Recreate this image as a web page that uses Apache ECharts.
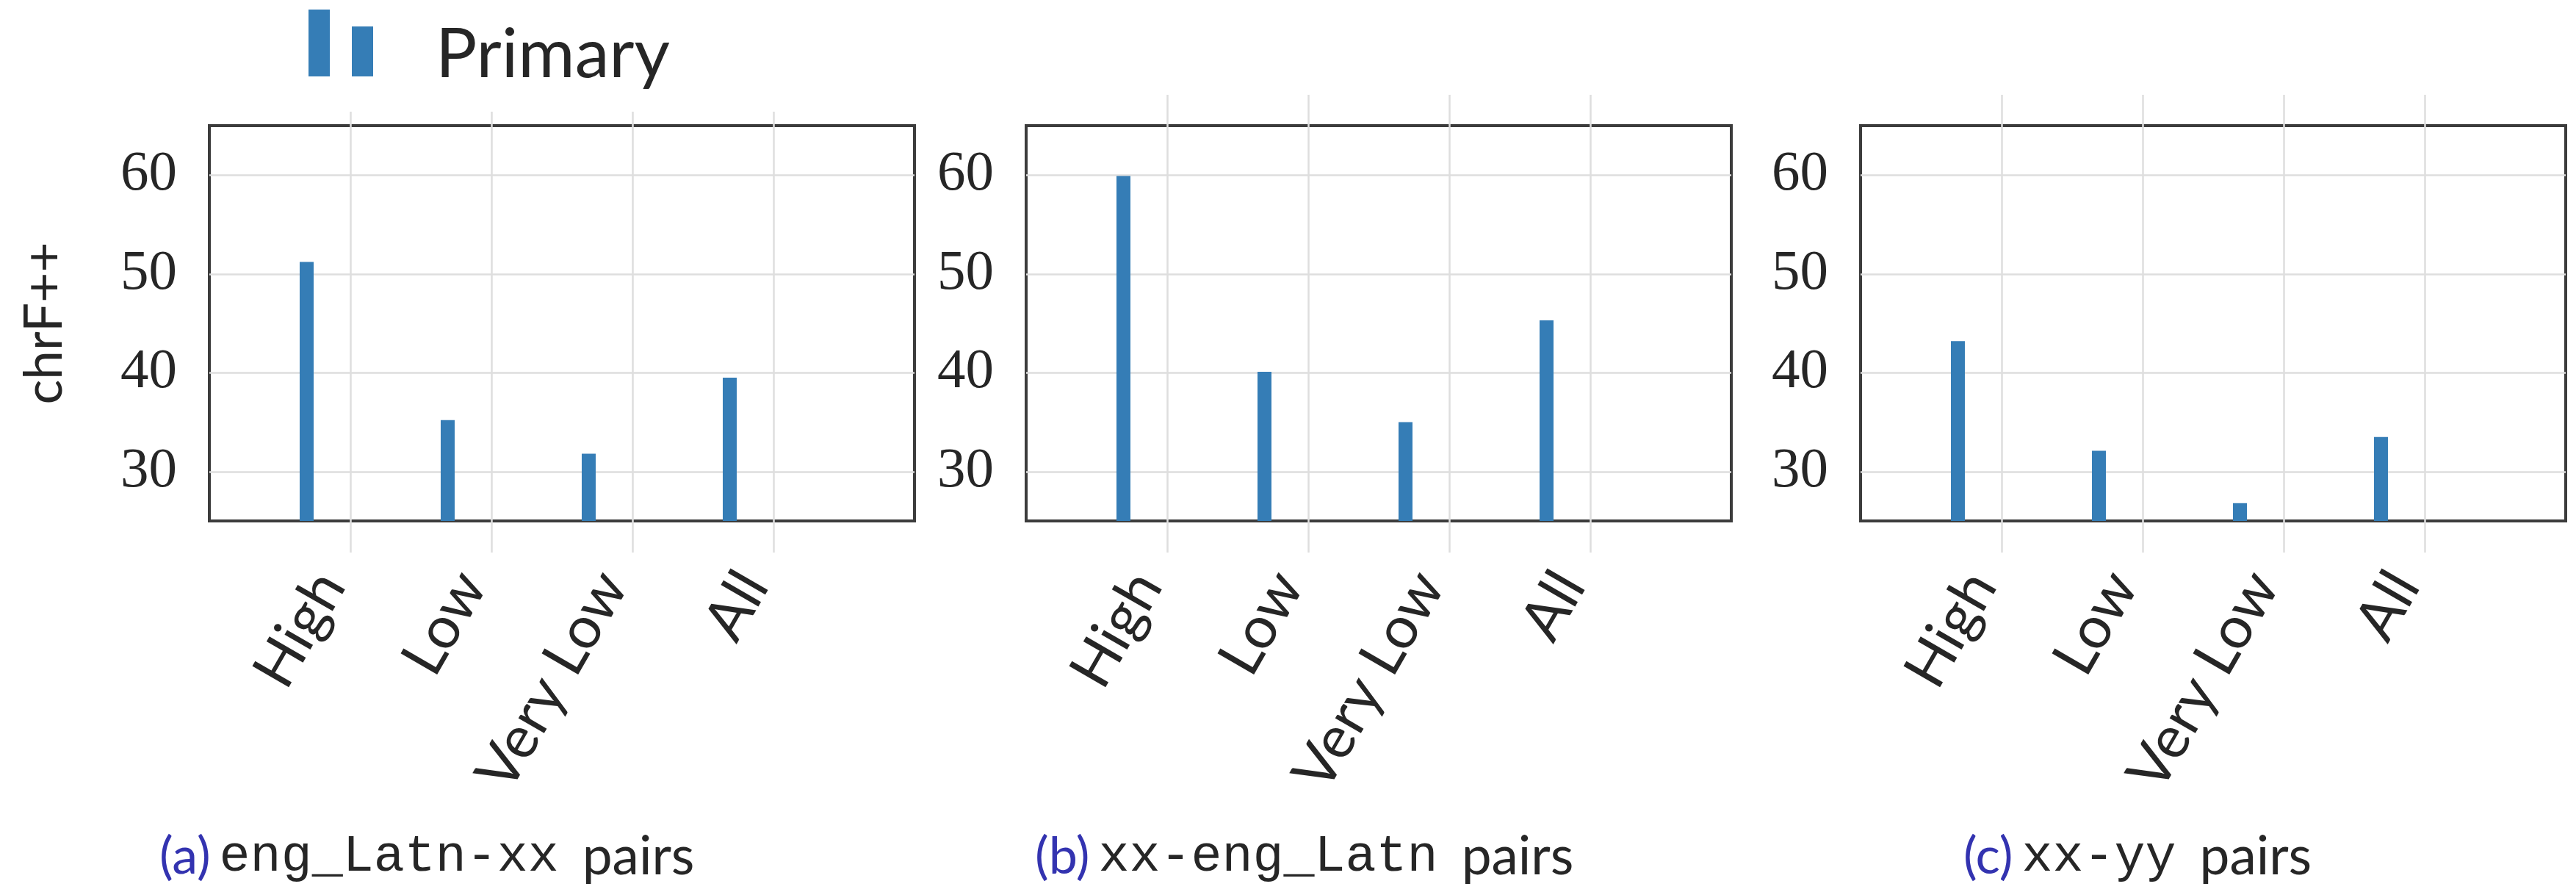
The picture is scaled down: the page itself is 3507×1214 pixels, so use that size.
<!DOCTYPE html>
<html><head><meta charset="utf-8">
<script src="https://cdn.jsdelivr.net/npm/echarts@6/dist/echarts.min.js"></script>
<style>html,body{margin:0;padding:0;background:#fff}#c{width:3507px;height:1214px}</style>
</head><body><div id="c"></div>
<script>
// ---- data ----
const CATEGORIES = ['High', 'Low', 'Very Low', 'All'];
const PANEL_A = [51.2, 35.2, 31.8, 39.5];
const PANEL_B = [59.9, 40.1, 35.0, 45.3];
const PANEL_C = [43.2, 32.1, 26.8, 33.5];
const Y_TICKS = [30, 40, 50, 60];
const SERIES_NAME = 'Primary';
const Y_NAME = 'chrF++';
const CAPTION_TAGS = ['(a)', '(b)', '(c)'];
const CAPTION_CODES = ['eng_Latn-xx', 'xx-eng_Latn', 'xx-yy'];
const CAPTION_SUFFIX = 'pairs';

// ---- layout / style ----
const PANEL_LEFT = [285, 1397, 2533];
const EXT_TOP = [152, 129, 129];
const EXT_BOTTOM = 752;
const CAP_LEFT = [212, 1404, 2668];
const PANEL_W = 960, PLOT_TOP = 171, PLOT_H = 538;
const LABEL_SHIFT = 27;
const BAR_SHIFT = -0.31;
const BAR = '#357DB6';
const GRID = '#dedede';
const TXT = '#262626';
const SANS = 'Lato';

const values = [PANEL_A, PANEL_B, PANEL_C];
const grids = [], xAxes = [], yAxes = [], series = [];
values.forEach((vals, p) => {
  const L = PANEL_LEFT[p];
  // extended vertical grid lines
  let gi = grids.length;
  grids.push({left: L, top: EXT_TOP[p], width: PANEL_W, height: EXT_BOTTOM - EXT_TOP[p], show: false});
  xAxes.push({gridIndex: gi, type: 'value', min: 0, max: 5, interval: 1,
    axisLine: {show: false}, axisTick: {show: false}, axisLabel: {show: false},
    splitLine: {show: true, lineStyle: {color: ['transparent', GRID, GRID, GRID, GRID, 'transparent'], width: 2.5}}});
  yAxes.push({gridIndex: gi, type: 'value', min: 0, max: 1, show: false, splitLine: {show: false}});
  // label axis
  gi = grids.length;
  grids.push({left: L - LABEL_SHIFT, top: PLOT_TOP, width: PANEL_W, height: PLOT_H, show: false});
  xAxes.push({gridIndex: gi, type: 'category', boundaryGap: false, data: ['', ...CATEGORIES, ''],
    axisLine: {show: false}, axisTick: {show: false}, splitLine: {show: false},
    axisLabel: {interval: 0, rotate: 60, margin: 76, fontSize: 80, fontFamily: SANS, color: TXT}});
  yAxes.push({gridIndex: gi, type: 'value', min: 0, max: 1, show: false, splitLine: {show: false}});
  // main plot
  gi = grids.length;
  grids.push({left: L, top: PLOT_TOP, width: PANEL_W, height: PLOT_H, show: true,
    borderColor: '#3c3c3c', borderWidth: 4, backgroundColor: 'transparent'});
  xAxes.push({gridIndex: gi, type: 'value', min: 0, max: 5, interval: 1,
    axisLine: {show: false}, axisTick: {show: false}, axisLabel: {show: false}, splitLine: {show: false}});
  yAxes.push({gridIndex: gi, type: 'value', min: 25, max: 65, interval: 5,
    axisLine: {show: false}, axisTick: {show: false},
    axisLabel: {margin: 44, fontSize: 77, fontFamily: 'Liberation Serif', color: TXT,
      formatter: v => Y_TICKS.includes(v) ? String(v) : ''},
    splitLine: {show: true, lineStyle: {color: ['transparent', GRID], width: 2.5}},
    name: p === 0 ? Y_NAME : '', nameLocation: 'middle', nameGap: 188,
    nameTextStyle: {fontSize: 71, fontFamily: SANS, color: TXT}});
  series.push({type: 'bar', name: SERIES_NAME, xAxisIndex: gi, yAxisIndex: gi,
    data: vals.map((v, i) => [i + 1 + BAR_SHIFT, v]), barWidth: 19,
    itemStyle: {color: BAR}, z: 3});
});

const option = {
  animation: false,
  backgroundColor: '#fff',
  legend: {data: [SERIES_NAME], left: 415, top: 8, itemWidth: 88, itemHeight: 123,
    icon: 'path://M0,0h29v91h-29zM59,23h29v68h-29zM0,123',
    textStyle: {fontSize: 94, fontFamily: SANS, color: TXT, padding: [0, 0, 0, 80]}},
  title: CAPTION_TAGS.map((t, i) => ({
    left: CAP_LEFT[i], top: 1125,
    text: `{tag|${t}}{code|${CAPTION_CODES[i]}}{suf|${CAPTION_SUFFIX}}`,
    textStyle: {fontWeight: 'normal', rich: {
      tag: {fontSize: 70, fontWeight: 'normal', fontFamily: SANS, color: '#3333b0', padding: [0, 12, 0, 0]},
      code: {fontSize: 70, fontWeight: 'normal', fontFamily: 'Liberation Mono', color: TXT, padding: [0, 32, 0, 0]},
      suf: {fontSize: 73, fontWeight: 'normal', fontFamily: SANS, color: TXT}
    }}
  })),
  grid: grids, xAxis: xAxes, yAxis: yAxes, series: series
};
const chart = echarts.init(document.getElementById('c'));
chart.setOption(option);
</script></body></html>
